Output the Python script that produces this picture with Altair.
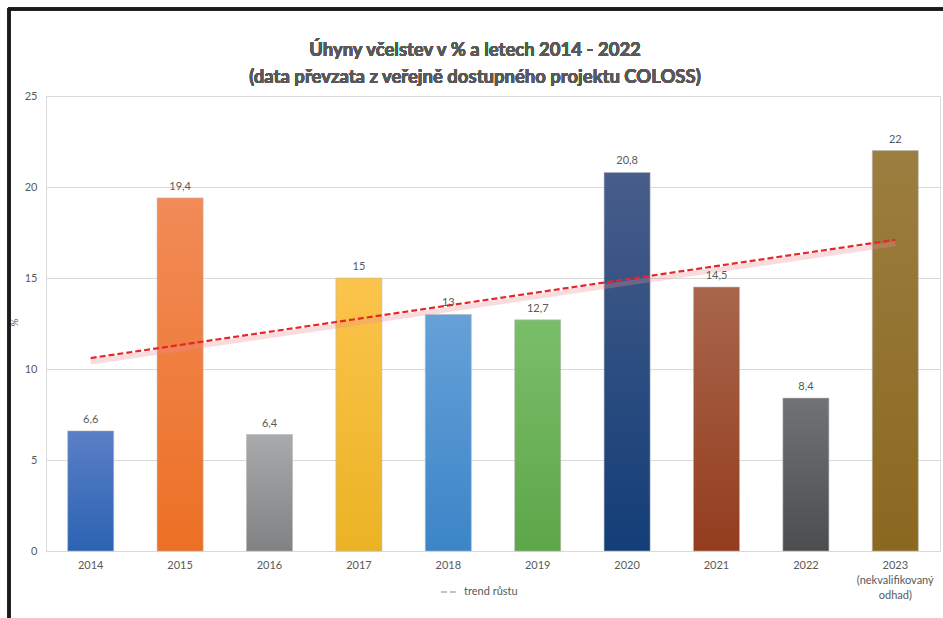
import altair as alt
import pandas as pd

# ---- data ----
years = ["2014", "2015", "2016", "2017", "2018", "2019", "2020", "2021", "2022",
         "2023|(nekvalifikovaný|odhad)"]
values = [6.6, 19.4, 6.4, 15, 13, 12.7, 20.8, 14.5, 8.4, 22]
value_labels = ["6,6", "19,4", "6,4", "15", "13", "12,7", "20,8", "14,5", "8,4", "22"]
top_colors = ["#5a7fc6", "#f28b58", "#a8aaac", "#fbc44c", "#66a1d8",
              "#7bbe69", "#475d8a", "#a8664b", "#707274", "#9c7e40"]
bottom_colors = ["#2b63b2", "#ec7024", "#7f8183", "#ebb324", "#3b85c7",
                 "#5da649", "#133e77", "#943c1e", "#4b4d4f", "#8b6820"]
trend_years = [years[0], years[-1]]
trend_values = [10.6, 17.1]
trend_name = ["trend růstu", "trend růstu"]
y_ticks = [0, 5, 10, 15, 20, 25]
title_lines = ["Úhyny včelstev v % a letech 2014 - 2022",
               "(data převzata z veřejně dostupného projektu COLOSS)"]

FONT = "Lato"
GRAY = "#595959"

df = pd.DataFrame({"year": years, "value": values, "label": value_labels})
trend_df = pd.DataFrame({"year": trend_years, "value": trend_values, "series": trend_name})

x_enc = alt.X("year:N", sort=years,
              scale=alt.Scale(domain=years, paddingInner=0.485),
              axis=alt.Axis(title=None, labelAngle=0, ticks=False, domainColor="#d9d9d9",
                            labelColor=GRAY, labelFontSize=11, labelFont=FONT,
                            labelPadding=8, labelLineHeight=15,
                            labelExpr="split(datum.label, '|')"))
y_enc = alt.Y("value:Q", scale=alt.Scale(domain=[0, 25], nice=False),
              axis=alt.Axis(values=y_ticks, title="%", grid=True, gridColor="#d9d9d9",
                            domain=False, ticks=False, labelColor=GRAY, labelFontSize=11,
                            labelFont=FONT, labelPadding=9, titleColor=GRAY,
                            titleFontSize=10, titleFont=FONT, titleFontWeight="normal",
                            titleX=-27, titleY=226))

base = alt.Chart(df)

layers = []
for yr, c_top, c_bot in zip(years, top_colors, bottom_colors):
    grad = alt.Gradient(gradient="linear",
                        stops=[alt.GradientStop(color=c_top, offset=0),
                               alt.GradientStop(color=c_bot, offset=1)],
                        x1=1, x2=1, y1=0, y2=1)
    layers.append(
        base.transform_filter(alt.datum.year == yr)
        .mark_bar(color=grad, stroke="#b8b8b8", strokeWidth=0.8, strokeOpacity=0.7)
        .encode(x=x_enc, y=y_enc)
    )

text_layer = base.mark_text(baseline="bottom", dy=-6, color=GRAY, fontSize=11, font=FONT).encode(
    x=alt.X("year:N", sort=years), y=alt.Y("value:Q"), text="label:N")

trend = alt.Chart(trend_df)
glow = trend.mark_line(color="#f08a96", strokeWidth=5, opacity=0.3, yOffset=4).encode(
    x=alt.X("year:N", sort=years), y=alt.Y("value:Q"))
trend_line = trend.mark_line(color="#e8262a", strokeWidth=2.2).encode(
    x=alt.X("year:N", sort=years), y=alt.Y("value:Q"),
    strokeDash=alt.StrokeDash("series:N",
                              scale=alt.Scale(range=[[6, 3]]),
                              legend=alt.Legend(title=None, orient="none", legendX=394,
                                                legendY=486, symbolType="stroke",
                                                symbolStrokeColor="#8c8c8c",
                                                symbolStrokeWidth=1.2, symbolSize=330,
                                                labelColor=GRAY, labelFontSize=11,
                                                labelFont=FONT)))

# chart title (two lines)
title1 = alt.Chart(df).mark_text(text=title_lines[0], font=FONT, fontSize=18.5, fontWeight="bold",
                                 color=GRAY, align="center", baseline="middle", clip=False).encode(
    x=alt.value(429), y=alt.value(-46))
title2 = alt.Chart(df).mark_text(text=title_lines[1], font=FONT, fontSize=18.5, fontWeight="bold",
                                 color=GRAY, align="center", baseline="middle", clip=False).encode(
    x=alt.value(429), y=alt.value(-19))

# decorative frame (top and left edges)
frame_top = alt.Chart(df).mark_rule(color="#1a1a1a", strokeWidth=2.5, clip=False).encode(
    x=alt.value(-38), x2=alt.value(900), y=alt.value(-87))
frame_left = alt.Chart(df).mark_rule(color="#1a1a1a", strokeWidth=2.5, clip=False).encode(
    x=alt.value(-37), y=alt.value(-88), y2=alt.value(530))

chart = alt.layer(*layers, glow, trend_line, text_layer, title1, title2,
                  frame_top, frame_left).properties(
    width=894, height=455,
    padding={"left": 46, "top": 96, "right": 3, "bottom": 67},
    autosize=alt.AutoSizeParams(type="none"),
).configure_view(stroke=None).configure(background="white")

chart.save("out.html", embed_options={"renderer": "svg", "actions": False})
